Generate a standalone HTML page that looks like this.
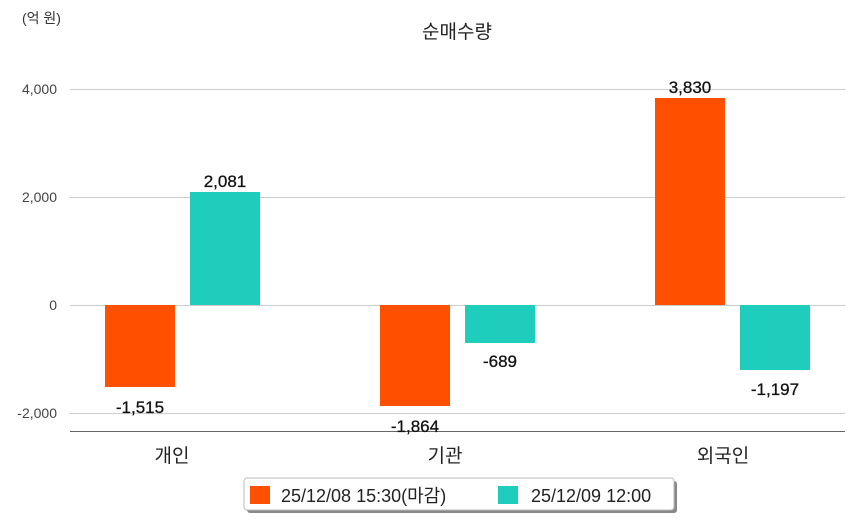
<!DOCTYPE html>
<html><head><meta charset="utf-8"><style>
body{margin:0;background:#fff;width:854px;height:520px;overflow:hidden}
svg text{font-family:"Liberation Sans","Noto Sans CJK KR",sans-serif}
</style></head><body>
<svg width="854" height="520" xmlns="http://www.w3.org/2000/svg">
<text x="22" y="23" font-size="14" fill="#333">(억 원)</text>
<text x="457" y="38" font-size="19" fill="#222" text-anchor="middle">순매수량</text>
<g stroke="#ccc" stroke-width="1">
<line x1="70" y1="89.5" x2="845" y2="89.5"/>
<line x1="70" y1="197.5" x2="845" y2="197.5"/>
<line x1="70" y1="305.5" x2="845" y2="305.5"/>
<line x1="70" y1="413.5" x2="845" y2="413.5"/>
</g>
<line x1="70" y1="431.5" x2="845" y2="431.5" stroke="#666"/>
<g font-size="14" fill="#444" text-anchor="end">
<text x="57" y="94">4,000</text>
<text x="57" y="202">2,000</text>
<text x="57" y="310">0</text>
<text x="57" y="418">-2,000</text>
</g>
<g fill="#ff5000">
<rect x="105" y="305" width="70" height="82"/>
<rect x="380" y="305" width="70" height="101"/>
<rect x="655" y="98" width="70" height="207"/>
</g>
<g fill="#1ecdbb">
<rect x="190" y="192" width="70" height="113"/>
<rect x="465" y="305" width="70" height="38"/>
<rect x="740" y="305" width="70" height="65"/>
</g>
<g font-size="17" fill="#111" text-anchor="middle" stroke="#111" stroke-width="0.3">
<text x="140" y="413">-1,515</text>
<text x="225" y="187">2,081</text>
<text x="415" y="432">-1,864</text>
<text x="500" y="367">-689</text>
<text x="690" y="93">3,830</text>
<text x="775" y="395">-1,197</text>
</g>
<g font-size="19" fill="#222" text-anchor="middle">
<text x="172" y="462">개인</text>
<text x="445" y="462">기관</text>
<text x="723" y="462">외국인</text>
</g>
<rect x="247" y="481" width="430" height="32" rx="3" fill="#888"/>
<rect x="244" y="478" width="430" height="32" rx="3" fill="#fff" stroke="#bbb"/>
<rect x="250" y="486" width="20" height="18" fill="#ff5000"/>
<text x="281" y="502" font-size="18" fill="#222">25/12/08 15:30(마감)</text>
<rect x="498" y="486" width="20" height="18" fill="#1ecdbb"/>
<text x="531" y="502" font-size="18" fill="#222">25/12/09 12:00</text>
</svg>
</body></html>
